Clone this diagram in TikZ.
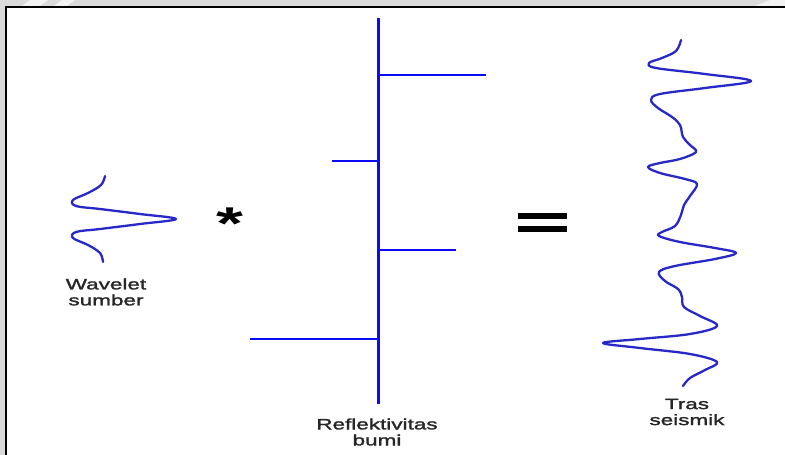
\documentclass[tikz,border=0pt]{standalone}
\usepackage{fontspec}
\newfontfamily\lblfont[FakeStretch=1.5,FakeBold=1.8]{Liberation Sans}
\newfontfamily\symfont[FakeStretch=1.5]{Liberation Sans Bold}
\definecolor{bgrey}{RGB}{218,218,218}
\definecolor{refblue}{RGB}{10,10,245}
\definecolor{waveblue}{RGB}{40,40,200}
\tikzset{
  lbl/.style={font=\lblfont\fontsize{15}{16}\selectfont, align=center, text=black!85, inner sep=0pt},
  refline/.style={draw=refblue, line width=3pt},
  spike/.style={draw=refblue, line width=2pt},
  wave/.style={draw=waveblue, line width=2.3pt, line cap=round, line join=round},
}
\begin{document}
\begin{tikzpicture}[x=1pt,y=-1pt]
\useasboundingbox (0,0) rectangle (785,455);
% background and frame
\fill[bgrey] (0,0) rectangle (785,455);
\fill[white, opacity=0.7] (30,0) -- (48,0) -- (40,6) -- (22,6) -- cycle;
\fill[white, opacity=0.7] (62,0) -- (75,0) -- (67,6) -- (54,6) -- cycle;
\fill[white, opacity=0.7] (770,0) -- (785,0) -- (785,6) -- (755,6) -- cycle;
\draw[fill=white, line width=2pt] (6,7) rectangle (800,470);

% source wavelet
\draw[wave] plot[smooth, tension=0.6] coordinates {
  (105,176) (101,185) (88,193) (73,200) (76,206) (100,209) (140,214) (176,219)
  (140,224) (100,229) (76,232) (73,238) (88,245) (100,253) (103,262)};
\node[lbl] (wlabel) at (106,292) {Wavelet\\sumber};

% convolution sign
\node[font=\symfont\fontsize{46}{46}\selectfont, inner sep=0pt] (star) at (230,224) {*};

% reflectivity
\coordinate (rtop) at (378,18);
\coordinate (rbot) at (378,404);
\draw[refline] (rtop) -- (rbot);
\coordinate (r1) at (378,75);  \coordinate (s1) at (486,75);
\coordinate (r2) at (378,161); \coordinate (s2) at (332,161);
\coordinate (r3) at (378,250); \coordinate (s3) at (456,250);
\coordinate (r4) at (378,339); \coordinate (s4) at (250,339);
\draw[spike] (r1) -- (s1);
\draw[spike] (r2) -- (s2);
\draw[spike] (r3) -- (s3);
\draw[spike] (r4) -- (s4);
\node[lbl] (rlabel) at (377,432) {Reflektivitas\\bumi};

% equals sign
\fill[black] (518,213) rectangle (567,219);
\fill[black] (518,226) rectangle (567,232);

% seismic trace
\draw[wave] plot[smooth, tension=0.6] coordinates {
  (681,40) (676,51) (662,58) (649,63) (656,68) (705,74) (751,81)
  (705,88) (660,94) (651,100) (658,108) (672,117) (680,125) (683,137)
  (690,145) (696,152) (680,159) (660,163) (648,167) (660,173) (685,179)
  (697,184) (690,196) (684,205) (681,215) (675,226) (662,232) (659,236)
  (680,242) (715,248) (736,253) (715,259) (675,266) (659,272) (665,281)
  (678,289) (682,297) (684,307) (700,316) (717,326) (690,334) (640,339)
  (603,343) (640,348) (690,354) (717,362) (705,370) (690,378) (683,386)};
\node[lbl] (tlabel) at (687,412) {Tras\\seismik};
\end{tikzpicture}
\end{document}
